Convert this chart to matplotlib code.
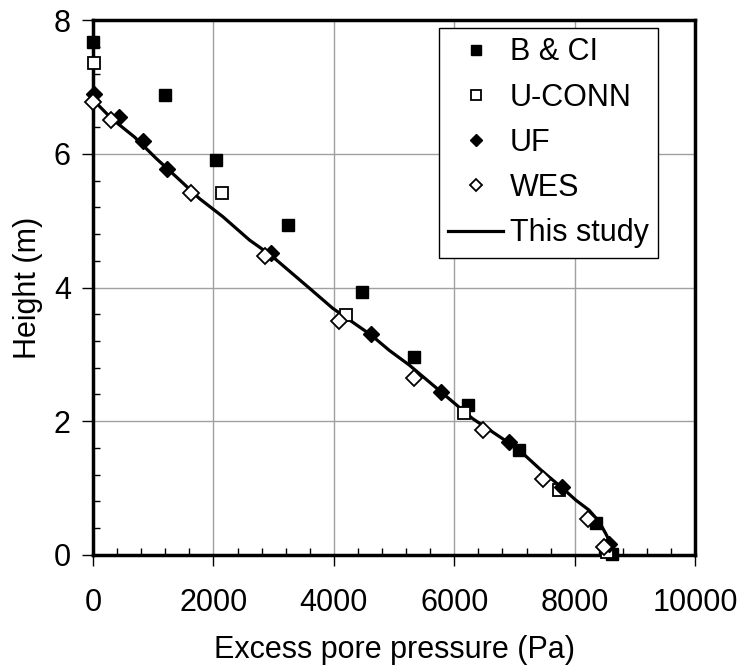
import numpy as np
import matplotlib.pyplot as plt

plt.rcParams['font.family'] = ['Liberation Sans', 'DejaVu Sans']

# B & CI (filled squares)
bci_x = [0, 1190, 2045, 3235, 4465, 5330, 6220, 7075, 8350, 8625]
bci_y = [7.67, 6.88, 5.91, 4.93, 3.94, 2.96, 2.25, 1.57, 0.47, 0.01]

# U-CONN (open squares)
uconn_x = [15, 2145, 4200, 6155, 7740, 8540]
uconn_y = [7.36, 5.42, 3.59, 2.12, 0.97, 0.05]

# UF (filled diamonds)
uf_x = [10, 430, 830, 1235, 2960, 4615, 5775, 6910, 7795, 8570]
uf_y = [6.90, 6.55, 6.19, 5.78, 4.52, 3.30, 2.43, 1.69, 1.01, 0.17]

# WES (open diamonds)
wes_x = [0, 305, 1630, 2860, 4080, 5335, 6470, 7465, 8225, 8485]
wes_y = [6.78, 6.50, 5.42, 4.47, 3.50, 2.65, 1.87, 1.13, 0.53, 0.12]

# This study (line)
study_x = [0, 305, 691, 1051, 1438, 1769, 2156, 2599, 2958, 3373, 3594,
           3980, 4617, 4920, 5252, 5804, 6302, 6799, 7076, 7463, 7795,
           8017, 8237, 8403, 8514, 8597, 8652]
study_y = [6.81, 6.53, 6.25, 5.93, 5.61, 5.33, 5.06, 4.71, 4.48, 4.16, 3.99,
           3.69, 3.29, 3.06, 2.84, 2.42, 2.04, 1.74, 1.57, 1.25, 1.00,
           0.82, 0.67, 0.50, 0.32, 0.17, 0.03]

fig = plt.figure(figsize=(7.38, 6.71), dpi=100)
ax = fig.add_axes([0.126, 0.173, 0.816, 0.797])

ax.plot(study_x, study_y, '-', color='black', linewidth=2.3, label='This study',
        zorder=2, clip_on=False)
ax.plot(bci_x, bci_y, 's', color='black', markersize=8.5, label='B & CI',
        zorder=3, clip_on=False)
ax.plot(uconn_x, uconn_y, 's', markerfacecolor='white', markeredgecolor='black',
        markeredgewidth=1.3, markersize=8.5, label='U-CONN', zorder=3, clip_on=False)
ax.plot(uf_x, uf_y, 'D', color='black', markersize=8, label='UF',
        zorder=4, clip_on=False)
ax.plot(wes_x, wes_y, 'D', markerfacecolor='white', markeredgecolor='black',
        markeredgewidth=1.3, markersize=8, label='WES', zorder=4, clip_on=False)

ax.set_xlim(0, 10000)
ax.set_ylim(0, 8)
ax.set_xticks(np.arange(0, 10001, 2000))
ax.set_yticks(np.arange(0, 8.1, 2))
ax.set_xticks(np.arange(0, 10001, 400), minor=True)
ax.set_yticks(np.arange(0, 8.01, 0.4), minor=True)
ax.grid(True, which='major', color='#a0a0a0', linewidth=1)
ax.set_axisbelow(True)

ax.tick_params(which='major', direction='out', length=8, width=1, labelsize=22)
ax.tick_params(axis='x', which='major', pad=16)
ax.tick_params(axis='y', which='major', pad=8)
ax.tick_params(which='minor', direction='in', length=5, width=1)
for s in ax.spines.values():
    s.set_linewidth(2.5)

ax.set_xlabel('Excess pore pressure (Pa)', fontsize=22, labelpad=12)
ax.set_ylabel('Height (m)', fontsize=22, labelpad=8)

handles, labels = ax.get_legend_handles_labels()
order = [1, 2, 3, 4, 0]
leg = ax.legend([handles[i] for i in order], [labels[i] for i in order],
                loc='upper right', bbox_to_anchor=(0.9385, 0.985),
                fontsize=22, frameon=True, fancybox=False,
                edgecolor='black', framealpha=1, handlelength=1.8,
                handletextpad=0.22, labelspacing=0.5, borderaxespad=0.0,
                borderpad=0.3, markerscale=0.8)
leg.get_frame().set_linewidth(1)

plt.savefig('out.png', dpi=100)
